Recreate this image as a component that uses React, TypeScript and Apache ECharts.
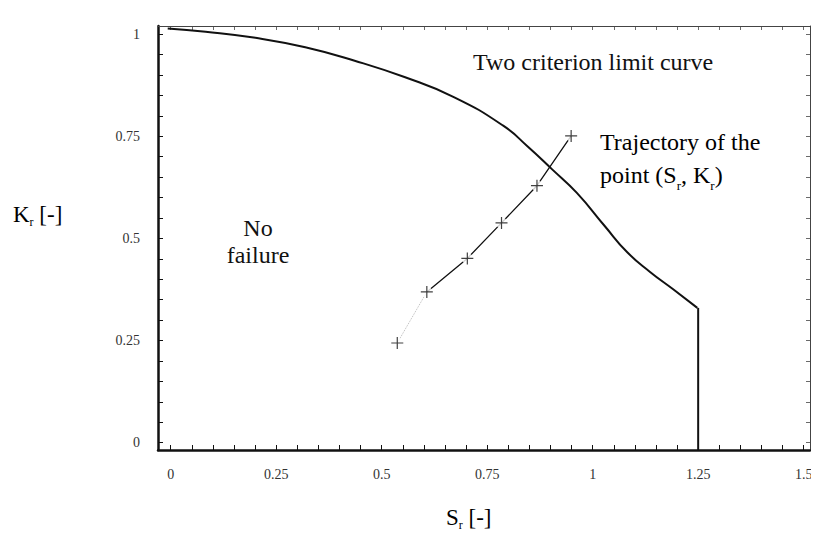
import React, { useEffect, useRef } from "react";
import * as echarts from "echarts";

// Two criterion limit curve (Sr, Kr)
const limitCurve: [number, number][] = [
  [-0.007, 1.014], [0.083, 1.006], [0.201, 0.991], [0.319, 0.968],
  [0.436, 0.935], [0.554, 0.895], [0.671, 0.846], [0.788, 0.776],
  [0.846, 0.725], [0.904, 0.669], [0.962, 0.612], [1.028, 0.531],
  [1.082, 0.466], [1.136, 0.418], [1.19, 0.376], [1.248, 0.33],
];
// Plastic collapse cut-off
const cutoffLine: [number, number][] = [[1.25, 0.33], [1.25, -0.018]];
// Trajectory of the point (Sr, Kr)
const trajectoryStart: [number, number][] = [[0.537, 0.244], [0.607, 0.369]];
const trajectoryRest: [number, number][] = [
  [0.607, 0.369], [0.703, 0.451], [0.784, 0.538], [0.868, 0.629], [0.949, 0.751],
];
const trajectoryPoints: [number, number][] = [
  [0.537, 0.244], [0.607, 0.369], [0.703, 0.451], [0.784, 0.538], [0.868, 0.629], [0.949, 0.751],
];

const xLabelValues = [0, 0.25, 0.5, 0.75, 1, 1.25, 1.5];
const xTickValues = [
  0, 0.05, 0.1, 0.15, 0.2, 0.25, 0.3, 0.35, 0.4, 0.45, 0.5, 0.55, 0.6, 0.65, 0.7, 0.75,
  0.8, 0.85, 0.9, 0.95, 1, 1.05, 1.1, 1.15, 1.2, 1.25, 1.3, 1.35, 1.4, 1.45, 1.5,
];
const yLabelValues = [0, 0.25, 0.5, 0.75, 1];
const yTickValues = [
  0, 0.05, 0.1, 0.15, 0.2, 0.25, 0.3, 0.35, 0.4, 0.45, 0.5, 0.55, 0.6, 0.65, 0.7, 0.75,
  0.8, 0.85, 0.9, 0.95, 1,
];
const xRange = [-0.03, 1.515];
const yRange = [-0.018, 1.02];

const SERIF = '"Liberation Serif", "Times New Roman", serif';
const INK = "#111";

export default function App() {
  const ref = useRef<HTMLDivElement>(null);
  useEffect(() => {
    if (!ref.current) return;
    const chart = echarts.init(ref.current, undefined, { renderer: "svg" });
    const tickLabel = {
      fontFamily: SERIF,
      fontSize: 14,
      color: "#333",
    };
    const plus = "path://M5 0 L5 10 M0 5 L10 5";
    const subRich = (big: number, small: number, lh: number) => ({
      a: { fontFamily: SERIF, fontSize: big, color: INK, lineHeight: lh, verticalAlign: "middle" },
      s: { fontFamily: SERIF, fontSize: small, color: INK, lineHeight: 10, verticalAlign: "bottom" },
    });
    chart.setOption({
      animation: false,
      backgroundColor: "#fff",
      grid: { left: 158, right: 9, top: 26, bottom: 95, containLabel: false, outerBoundsMode: "none" },
      xAxis: [
        {
          type: "value",
          min: xRange[0],
          max: xRange[1],
          position: "bottom",
          axisLine: { onZero: false, lineStyle: { color: INK, width: 2.5 } },
          axisTick: { inside: true, length: 5, customValues: xTickValues, lineStyle: { color: INK, width: 1 } },
          axisLabel: { customValues: xLabelValues, margin: 17, ...tickLabel },
          splitLine: { show: false },
        },
        {
          type: "value",
          min: xRange[0],
          max: xRange[1],
          position: "top",
          axisLine: { onZero: false, lineStyle: { color: "#444", width: 1 } },
          axisTick: { inside: true, length: 4, customValues: xTickValues, lineStyle: { color: "#444", width: 0.8 } },
          axisLabel: { show: false },
          splitLine: { show: false },
        },
      ],
      yAxis: [
        {
          type: "value",
          min: yRange[0],
          max: yRange[1],
          position: "left",
          axisLine: { onZero: false, lineStyle: { color: INK, width: 2.5 } },
          axisTick: { inside: true, length: 5, customValues: yTickValues, lineStyle: { color: INK, width: 1 } },
          axisLabel: { customValues: yLabelValues, margin: 18, ...tickLabel },
          splitLine: { show: false },
        },
        {
          type: "value",
          min: yRange[0],
          max: yRange[1],
          position: "right",
          axisLine: { onZero: false, lineStyle: { color: "#444", width: 1 } },
          axisTick: { inside: true, length: 4, customValues: yTickValues, lineStyle: { color: "#444", width: 0.8 } },
          axisLabel: { show: false },
          splitLine: { show: false },
        },
      ],
      series: [
        {
          name: "Two criterion limit curve",
          type: "line",
          data: limitCurve,
          smooth: 0.5,
          symbol: "none",
          lineStyle: { color: INK, width: 2 },
          z: 3,
        },
        {
          name: "Cut-off",
          type: "line",
          data: cutoffLine,
          symbol: "none",
          lineStyle: { color: INK, width: 2 },
          z: 3,
        },
        {
          name: "Trajectory start",
          type: "line",
          data: trajectoryStart,
          symbol: "none",
          lineStyle: { color: "#bbb", width: 1, type: "dotted" },
          z: 2,
        },
        {
          name: "Trajectory",
          type: "line",
          data: trajectoryRest,
          symbol: "none",
          lineStyle: { color: INK, width: 1.3 },
          z: 2,
        },
        {
          name: "Gaps",
          type: "scatter",
          data: trajectoryPoints,
          symbol: "circle",
          symbolSize: 11,
          itemStyle: { color: "#fff" },
          z: 4,
          silent: true,
        },
        {
          name: "Points",
          type: "scatter",
          data: trajectoryPoints,
          symbol: plus,
          symbolSize: 12,
          itemStyle: { color: "none", borderColor: INK, borderWidth: 1.2 },
          z: 5,
        },
      ],
      graphic: [
        {
          type: "text",
          left: 13,
          top: 203,
          style: {
            text: "{a|K}{s|r}{a| [-]}",
            rich: subRich(23, 12, 26),
          },
        },
        {
          type: "text",
          left: 446,
          top: 506,
          style: {
            text: "{a|S}{s|r}{a| [-]}",
            rich: subRich(23, 12, 26),
          },
        },
        {
          type: "text",
          x: 258,
          y: 241,
          style: {
            text: "No\nfailure",
            fontFamily: SERIF,
            fontSize: 24,
            lineHeight: 27,
            fill: INK,
            align: "center",
            verticalAlign: "middle",
          },
        },
        {
          type: "text",
          x: 473,
          y: 62,
          style: {
            text: "Two criterion limit curve",
            fontFamily: SERIF,
            fontSize: 24,
            fill: INK,
            align: "left",
            verticalAlign: "middle",
          },
        },
        {
          type: "text",
          left: 600,
          top: 130,
          style: {
            text: "{a|Trajectory of the}\n{a|point (S}{s|r}{a|, K}{s|r}{a|)}",
            rich: subRich(24, 13, 33),
          },
        },
      ],
    });
    return () => chart.dispose();
  }, []);
  return <div ref={ref} style={{ width: 819, height: 545, margin: -8 }} />;
}
